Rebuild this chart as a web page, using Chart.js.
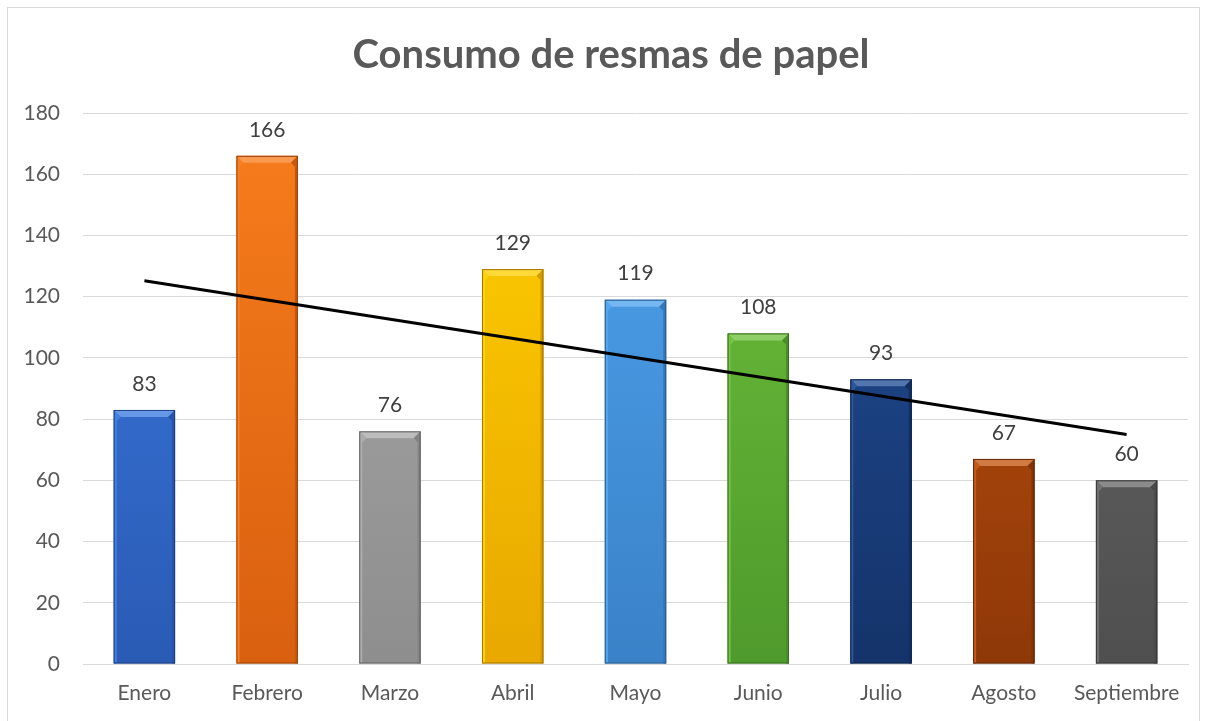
<!DOCTYPE html>
<html>
<head>
<meta charset="utf-8">
<script src="https://cdn.jsdelivr.net/npm/chart.js@4"></script>
<style>
  html, body { margin: 0; padding: 0; background: #fff; }
  #wrap { width: 1209px; height: 721px; position: relative; }
</style>
</head>
<body>
<div id="wrap"><canvas id="chart" width="1209" height="721"></canvas></div>
<script>
// --- datos ---
const months = ["Enero", "Febrero", "Marzo", "Abril", "Mayo", "Junio", "Julio", "Agosto", "Septiembre"];
const reams = [83, 166, 76, 129, 119, 108, 93, 67, 60];
// linea de tendencia (solo extremos)
const trend = [125.2, null, null, null, null, null, null, null, 75.0];
const yTicks = [0, 20, 40, 60, 80, 100, 120, 140, 160, 180];
const chartTitle = 'Consumo de resmas de papel';

// colores por barra: arriba / abajo
const topColors = ["#3c7ae0", "#f77d1c", "#aaaaaa", "#ffd000", "#4ea3ee", "#70c23c", "#234f98", "#c4540f", "#6a6a6a"];
const bottomColors = ["#2a5bb5", "#d9600f", "#8e8e8e", "#e8a800", "#3a82c8", "#4f9a2c", "#14336a", "#8e3808", "#4f4f4f"];

const FONT = 'Lato, "Open Sans", sans-serif';

function shade(hex, amt) {
    const n = parseInt(hex.slice(1), 16);
    let r = (n >> 16) & 255, g = (n >> 8) & 255, b = n & 255;
    if (amt >= 0) { r += (255 - r) * amt; g += (255 - g) * amt; b += (255 - b) * amt; }
    else { r *= 1 + amt; g *= 1 + amt; b *= 1 + amt; }
    return `rgb(${Math.round(r)},${Math.round(g)},${Math.round(b)})`;
}

// borde + titulo
const frame = {
    id: 'frame',
    beforeDraw(chart) {
        const c = chart.ctx;
        c.save();
        c.strokeStyle = '#d9d9d9';
        c.lineWidth = 1;
        c.strokeRect(7.5, 7.5, 1192, 730);
        c.fillStyle = '#595959';
        c.font = 'bold 40px ' + FONT;
        c.textAlign = 'center';
        c.textBaseline = 'middle';
        c.fillText(chartTitle, 611, 55);
        c.restore();
    }
};

// bisel de las barras + etiquetas
const bevel = {
    id: 'bevel',
    afterDatasetDraw(chart, args) {
        if (args.index !== 0) return;
        const c = chart.ctx;
        const meta = chart.getDatasetMeta(0);
        c.save();
        meta.data.forEach((bar, i) => {
            const w = bar.width, l = bar.x - w / 2, r = bar.x + w / 2;
            const t = bar.y, btm = bar.base, b = 7;
            // arriba
            c.fillStyle = shade(topColors[i], 0.22);
            c.beginPath();
            c.moveTo(l, t); c.lineTo(r, t); c.lineTo(r - b, t + b); c.lineTo(l + b, t + b); c.closePath(); c.fill();
            // izquierda
            c.fillStyle = shade(topColors[i], 0.04);
            c.beginPath();
            c.moveTo(l, t); c.lineTo(l + b, t + b); c.lineTo(l + 3, t + b + 4); c.lineTo(l + 3, btm); c.lineTo(l, btm); c.closePath(); c.fill();
            // derecha
            c.fillStyle = shade(bottomColors[i], -0.08);
            c.beginPath();
            c.moveTo(r, t); c.lineTo(r - b, t + b); c.lineTo(r - 3, t + b + 4); c.lineTo(r - 3, btm); c.lineTo(r, btm); c.closePath(); c.fill();
            c.strokeStyle = shade(bottomColors[i], -0.3);
            c.lineWidth = 1;
            c.strokeRect(l + 0.5, t + 0.5, w - 1, btm - t - 1);

            c.fillStyle = '#404040';
            c.font = '21px ' + FONT;
            c.textAlign = 'center';
            c.textBaseline = 'middle';
            c.fillText(String(reams[i]), bar.x, t - 26);
        });
        c.restore();
    }
};

new Chart(document.getElementById('chart'), {
    data: {
        labels: months,
        datasets: [
            {
                type: 'bar',
                label: 'Resmas',
                data: reams,
                order: 1,
                barPercentage: 0.5,
                categoryPercentage: 1,
                backgroundColor: (ctx) => {
                    const area = ctx.chart.chartArea;
                    if (!area) return topColors[ctx.dataIndex];
                    const el = ctx.chart.getDatasetMeta(0).data[ctx.dataIndex];
                    const top = el && isFinite(el.y) ? el.y : area.top;
                    const g = ctx.chart.ctx.createLinearGradient(0, top, 0, area.bottom);
                    g.addColorStop(0, topColors[ctx.dataIndex]);
                    g.addColorStop(1, bottomColors[ctx.dataIndex]);
                    return g;
                },
                borderWidth: 0
            },
            {
                type: 'line',
                label: 'Tendencia',
                data: trend,
                order: 0,
                spanGaps: true,
                borderColor: '#000',
                borderWidth: 3,
                pointRadius: 0,
                fill: false
            }
        ]
    },
    options: {
        responsive: false,
        animation: false,
        layout: { padding: { left: 0, right: 21, top: 113, bottom: 0 } },
        plugins: {
            legend: { display: false },
            tooltip: { enabled: false },
            title: { display: false }
        },
        scales: {
            x: {
                grid: { display: false },
                border: { color: '#d9d9d9' },
                ticks: { color: '#595959', font: { family: FONT, size: 21 }, padding: 9, maxRotation: 0 },
                afterFit(s) { s.height = 57; }
            },
            y: {
                min: 0, max: 180,
                afterBuildTicks(s) { s.ticks = yTicks.map(v => ({ value: v })); },
                grid: { color: '#d9d9d9', drawTicks: false },
                border: { display: false },
                ticks: { color: '#595959', font: { family: FONT, size: 21 }, padding: 23 },
                afterFit(s) { s.width = 83; }
            }
        }
    },
    plugins: [frame, bevel]
});
</script>
</body>
</html>
